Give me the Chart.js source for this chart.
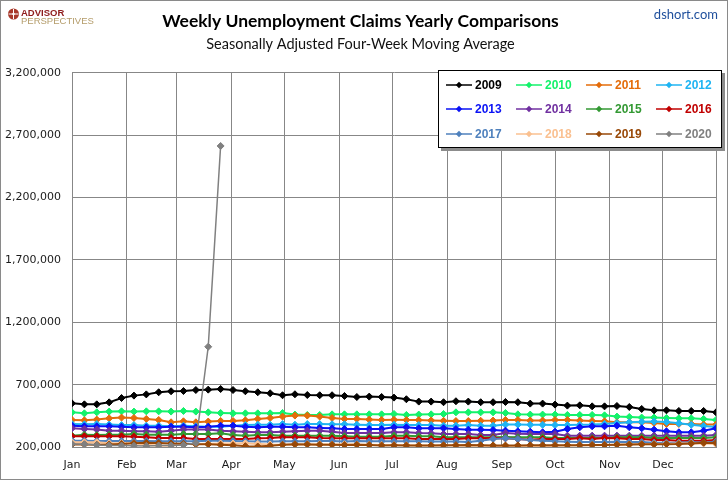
<!DOCTYPE html>
<html>
<head>
<meta charset="utf-8">
<style>
html,body{margin:0;padding:0;background:#fff;overflow:hidden}
canvas{display:block}
</style>
<script src="https://cdn.jsdelivr.net/npm/chart.js@4.4.1/dist/chart.umd.min.js"></script>
</head>
<body>
<canvas id="c" width="728" height="480"></canvas>
<script>
// ---------- data ----------
const years = ['2009','2010','2011','2012','2013','2014','2015','2016','2017','2018','2019','2020'];
const monthLabels = ['Jan','Feb','Mar','Apr','May','Jun','Jul','Aug','Sep','Oct','Nov','Dec'];
const monthStartDays = [0,31,59,90,120,151,181,212,243,273,304,334,364];
const yTickMin = 200000;
const yTickMax = 3200000;
const yTickStep = 500000;

const claims2009 = [550000,542000,542000,558000,593000,612000,622000,639000,647000,649000,657000,660000,665000,657000,647000,639000,631000,615000,623000,617000,615000,615000,609000,601000,604000,601000,596000,583000,564000,564000,559000,567000,564000,559000,559000,561000,559000,548000,548000,540000,532000,534000,526000,526000,529000,521000,505000,494000,494000,489000,489000,489000,478000];
const claims2010 = [478000,470000,478000,484000,486000,484000,486000,486000,484000,489000,484000,478000,473000,470000,470000,470000,470000,473000,460000,457000,457000,462000,462000,462000,462000,462000,465000,457000,460000,462000,465000,478000,478000,478000,478000,473000,462000,460000,460000,460000,457000,457000,457000,454000,444000,441000,436000,436000,433000,430000,430000,425000,417000];
const claims2011 = [417000,414000,420000,430000,436000,433000,425000,417000,398000,406000,398000,404000,409000,409000,414000,425000,433000,444000,452000,452000,444000,433000,425000,425000,420000,417000,418000,417000,416000,413000,410000,408000,408000,410000,412000,417000,417000,412000,412000,417000,417000,412000,409000,406000,398000,398000,398000,393000,385000,385000,385000,380000,380000];
const claims2012 = [384000,382000,384000,380000,376000,376000,371000,371000,366000,371000,366000,363000,363000,371000,376000,379000,379000,384000,379000,384000,384000,382000,382000,379000,376000,376000,379000,376000,376000,376000,371000,371000,376000,371000,371000,380000,380000,378000,378000,376000,376000,378000,380000,385000,393000,398000,402000,404000,400000,390000,378000,368000,360000];
const claims2013 = [371000,366000,366000,366000,363000,358000,358000,358000,363000,363000,358000,363000,371000,371000,363000,358000,363000,363000,358000,358000,353000,350000,344000,344000,344000,344000,358000,358000,350000,350000,350000,344000,339000,339000,336000,331000,326000,323000,318000,323000,344000,358000,366000,366000,371000,358000,350000,339000,326000,318000,318000,331000,350000];
const claims2014 = [350000,344000,340000,331000,331000,326000,326000,323000,331000,340000,340000,340000,331000,326000,323000,318000,318000,323000,326000,331000,331000,323000,312000,312000,312000,312000,318000,318000,312000,310000,304000,304000,304000,296000,296000,312000,307000,304000,304000,304000,291000,291000,291000,291000,291000,291000,291000,291000,291000,291000,291000,291000,296000];
const claims2015 = [291000,299000,296000,299000,299000,304000,299000,299000,299000,304000,304000,304000,310000,296000,291000,296000,296000,291000,291000,291000,291000,291000,286000,283000,283000,283000,291000,291000,286000,286000,278000,278000,278000,278000,278000,280000,278000,278000,278000,272000,272000,272000,272000,272000,278000,278000,278000,272000,272000,272000,272000,272000,278000];
const claims2016 = [286000,286000,286000,286000,286000,283000,278000,272000,272000,272000,264000,264000,264000,264000,264000,270000,272000,278000,278000,278000,272000,270000,270000,270000,270000,270000,270000,270000,264000,264000,264000,264000,270000,270000,272000,270000,264000,259000,264000,264000,264000,270000,264000,272000,270000,264000,264000,256000,256000,251000,251000,251000,256000];
const claims2017 = [251000,251000,248000,248000,248000,248000,248000,246000,246000,246000,246000,250000,250000,248000,246000,244000,244000,246000,246000,246000,248000,248000,244000,248000,246000,246000,246000,246000,246000,244000,244000,244000,240000,250000,265000,270000,264000,256000,251000,246000,243000,240000,240000,240000,243000,240000,240000,235000,235000,235000,240000,235000,245000];
const claims2018 = [238000,238000,238000,230000,230000,230000,219000,211000,211000,224000,224000,226000,228000,228000,230000,225000,220000,218000,220000,222000,222000,220000,222000,220000,218000,216000,215000,214000,213000,212000,212000,212000,210000,210000,208000,208000,206000,207000,206000,210000,212000,214000,215000,216000,218000,220000,222000,224000,226000,228000,230000,228000,224000];
const claims2019 = [220000,221000,218000,220000,225000,231000,234000,232000,228000,226000,223000,222000,218000,214000,207000,204000,210000,218000,222000,221000,219000,218000,217000,218000,216000,213000,214000,213000,212000,213000,214000,215000,216000,214000,213000,212000,213000,214000,214000,215000,215000,215000,216000,217000,219000,220000,222000,222000,223000,224000,228000,234000,233000];
const claims2020 = [224000,222000,216000,213000,212000,210000,209000,212000,213000,216000,232000,1004000,2614000];

const allSeries = [claims2009,claims2010,claims2011,claims2012,claims2013,claims2014,claims2015,claims2016,claims2017,claims2018,claims2019,claims2020];

// ---------- styles ----------
const seriesColors = ['#000000','#13F26B','#E46C0A','#1FB4F2','#0A12F5','#7030A0','#339933','#C00000','#4F81BD','#FAC090','#984807','#808080'];
const seriesLineWidths = [2,2,2,2,2,2,2,2,2,2,2,1.5];
const gridColor = '#878787';
const DAYS_PER_WEEK = 7;

const datasets = years.map((yr, i) => ({
  label: yr,
  data: allSeries[i].map((v, k) => ({ x: k * DAYS_PER_WEEK, y: v })),
  borderColor: seriesColors[i],
  backgroundColor: seriesColors[i],
  pointBackgroundColor: seriesColors[i],
  pointBorderColor: seriesColors[i],
  borderWidth: seriesLineWidths[i],
  pointStyle: 'rectRot',
  pointRadius: 3.5,
  pointBorderWidth: 1,
  tension: 0,
  order: -i
}));

const decorPlugin = {
  id: 'decor',
  beforeDraw(chart) {
    const ctx = chart.ctx;
    ctx.save();
    ctx.fillStyle = '#ffffff';
    ctx.fillRect(0, 0, chart.width, chart.height);
    ctx.restore();
  },
  afterDraw(chart) {
    const ctx = chart.ctx;
    ctx.save();
    // logo
    ctx.fillStyle = '#A8382A';
    ctx.beginPath(); ctx.arc(13.5, 14, 5.5, 0, Math.PI * 2); ctx.fill();
    ctx.strokeStyle = '#ffffff'; ctx.lineWidth = 1;
    ctx.beginPath(); ctx.moveTo(13.5, 9); ctx.lineTo(13.5, 19); ctx.moveTo(8.5, 14); ctx.lineTo(18.5, 14); ctx.stroke();
    ctx.fillStyle = '#ffffff';
    ctx.beginPath(); ctx.arc(13.5, 14, 1.3, 0, Math.PI * 2); ctx.fill();
    ctx.textAlign = 'left'; ctx.textBaseline = 'alphabetic';
    ctx.fillStyle = '#8E1B1B';
    ctx.font = 'bold 9.5px "Liberation Sans"';
    ctx.fillText('ADVISOR', 21, 16);
    ctx.fillStyle = '#B49C6A';
    ctx.font = '9.5px "Liberation Sans"';
    ctx.fillText('PERSPECTIVES', 21, 24);
    // site
    ctx.fillStyle = '#1F4F9C';
    ctx.font = '13px Lato';
    ctx.textAlign = 'right';
    ctx.fillText('dshort.com', 718, 19);

    // legend box
    const bx = 438, by = 70, bw = 284, bh = 78;
    ctx.fillStyle = '#8c8c8c';
    ctx.fillRect(bx + 3, by + 3, bw, bh);
    ctx.fillStyle = '#ffffff';
    ctx.fillRect(bx, by, bw, bh);
    ctx.strokeStyle = '#000000'; ctx.lineWidth = 1;
    ctx.strokeRect(bx + 0.5, by + 0.5, bw - 1, bh - 1);
    const colX = [446, 516, 586, 656];
    const rowY = [85, 109, 134];
    chart.data.datasets.forEach((ds, i) => {
      const x0 = colX[i % 4], y0 = rowY[Math.floor(i / 4)];
      ctx.strokeStyle = ds.borderColor; ctx.lineWidth = 1.5;
      ctx.beginPath(); ctx.moveTo(x0, y0); ctx.lineTo(x0 + 26, y0); ctx.stroke();
      ctx.fillStyle = ds.borderColor;
      ctx.beginPath();
      ctx.moveTo(x0 + 13, y0 - 3.2); ctx.lineTo(x0 + 16.2, y0); ctx.lineTo(x0 + 13, y0 + 3.2); ctx.lineTo(x0 + 9.8, y0);
      ctx.closePath(); ctx.fill();
      ctx.font = 'bold 12px "Liberation Sans"';
      ctx.textAlign = 'left'; ctx.textBaseline = 'middle';
      ctx.fillText(ds.label, x0 + 29, y0 + 0.5);
    });

    // frame
    ctx.strokeStyle = '#8a8a8a'; ctx.lineWidth = 1;
    ctx.strokeRect(0.5, 0.5, chart.width - 1, chart.height - 1);
    ctx.restore();
  }
};

new Chart(document.getElementById('c'), {
  type: 'line',
  data: { datasets },
  options: {
    responsive: false,
    animation: false,
    devicePixelRatio: 1,
    layout: { padding: { left: 0, right: 7, top: 0, bottom: 0 } },
    scales: {
      x: {
        type: 'linear',
        min: monthStartDays[0],
        max: monthStartDays[monthStartDays.length - 1],
        afterBuildTicks: (scale) => { scale.ticks = monthStartDays.map(v => ({ value: v })); },
        afterFit: (scale) => { scale.height = 33; },
        grid: { color: gridColor, lineWidth: 1, drawTicks: false },
        border: { color: gridColor },
        ticks: {
          autoSkip: false, maxRotation: 0, minRotation: 0, padding: 12,
          color: '#1a1a1a', font: { family: '"DejaVu Sans"', size: 11 },
          callback: (value) => {
            const k = monthStartDays.indexOf(value);
            return (k >= 0 && k < monthLabels.length) ? monthLabels[k] : '';
          }
        }
      },
      y: {
        min: yTickMin,
        max: yTickMax,
        afterFit: (scale) => { scale.width = 72; },
        grid: { color: gridColor, lineWidth: 1, drawTicks: false },
        border: { color: gridColor },
        ticks: {
          stepSize: yTickStep, padding: 11,
          color: '#1a1a1a', font: { family: '"DejaVu Sans"', size: 11 },
          callback: (v) => Number(v).toLocaleString('en-US')
        }
      }
    },
    plugins: {
      legend: { display: false },
      tooltip: { enabled: false },
      title: {
        display: true,
        text: 'Weekly Unemployment Claims Yearly Comparisons',
        color: '#000000',
        font: { family: 'Lato', size: 17.5, weight: 'bold', lineHeight: 1.2 },
        padding: { top: 10.5, bottom: 2 }
      },
      subtitle: {
        display: true,
        text: 'Seasonally Adjusted Four-Week Moving Average',
        color: '#111111',
        font: { family: 'Lato', size: 14.5, weight: 'normal', lineHeight: 1.2 },
        padding: { top: 2, bottom: 20 }
      }
    }
  },
  plugins: [decorPlugin]
});
</script>
</body>
</html>
